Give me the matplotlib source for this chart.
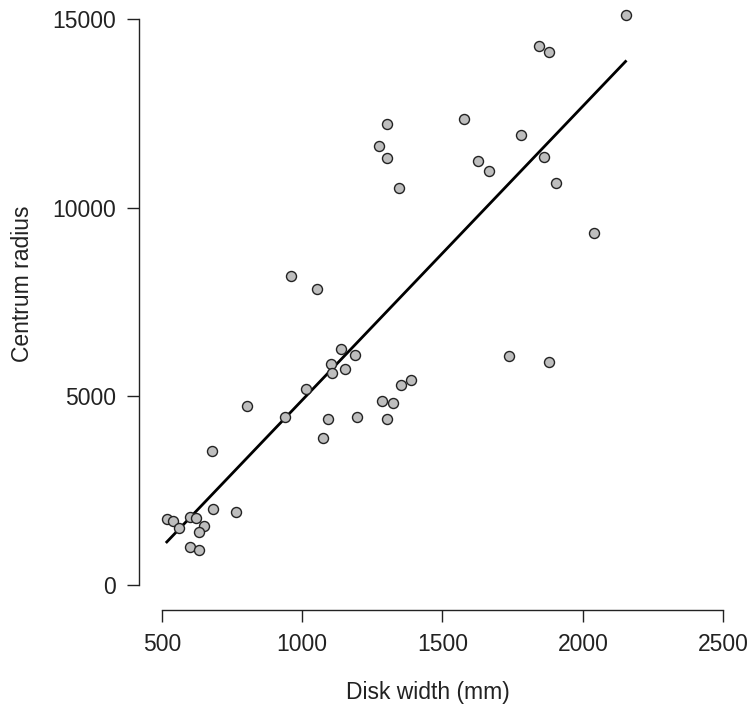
import matplotlib.pyplot as plt

# Disk width (mm) vs centrum radius
disk_width = [518, 540, 560, 601, 623, 649, 631, 682, 763, 599, 632, 680,
              802, 962, 1052, 1139, 1190, 1102, 1154, 1106, 1014, 1352, 1388,
              1285, 1325, 939, 1091, 1195, 1301, 1076, 2152, 1843, 1878, 1575,
              1780, 1627, 1667, 1861, 1906, 2038, 1737, 1878, 1303, 1275, 1303,
              1344]
centrum_radius = [1742, 1689, 1500, 1811, 1769, 1565, 1413, 2023, 1936, 1016,
                  928, 3553, 4755, 8194, 7849, 6266, 6107, 5860, 5736, 5630,
                  5190, 5296, 5436, 4879, 4818, 4464, 4411, 4455, 4402, 3890,
                  15115, 14301, 14134, 12357, 11925, 11252, 10987, 11341, 10661,
                  9334, 6065, 5923, 12225, 11633, 11331, 10520]

# fitted line as drawn in the reference
intercept = -2898
slope = 7.798

x_ticks = [500, 1000, 1500, 2000, 2500]
y_ticks = [0, 5000, 10000, 15000]

plt.rcParams['font.family'] = ['Liberation Sans', 'DejaVu Sans']
fs = 16.5
ink = '#222222'

W, H = 754, 708
fig = plt.figure(figsize=(W / 100, H / 100), dpi=100)
# plot region in pixels: x 139..746, y -3..610 (from top)
ax = fig.add_axes([139 / W, 1 - 610 / H, (746 - 139) / W, 613 / H])

ax.scatter(disk_width, centrum_radius, s=52, facecolor='#BEBEBE',
           edgecolor=ink, linewidths=1.0, zorder=3, clip_on=False)

x0, x1 = min(disk_width), max(disk_width)
ax.plot([x0, x1], [intercept + slope * x0, intercept + slope * x1],
        color='black', lw=2.0, zorder=2)

ax.set_xlim(419, 2581)
ax.set_ylim(-663, 15592)

for s in ['top', 'right']:
    ax.spines[s].set_visible(False)
ax.spines['bottom'].set_bounds(500, 2500)
ax.spines['left'].set_bounds(0, 15000)
for s in ['bottom', 'left']:
    ax.spines[s].set_linewidth(1.0)
    ax.spines[s].set_color(ink)

ax.set_xticks(x_ticks)
ax.set_yticks(y_ticks)
ax.tick_params(direction='out', length=8.6, width=1.0, color=ink,
               labelsize=fs, labelcolor=ink, pad=8)

fig.text(428 / W, 1 - 693 / H, 'Disk width (mm)', fontsize=fs, color=ink,
         ha='center', va='center')
fig.text(23 / W, 1 - 284 / H, 'Centrum radius', fontsize=fs, color=ink,
         ha='center', va='center', rotation=90)

fig.savefig('out.png', dpi=100)
